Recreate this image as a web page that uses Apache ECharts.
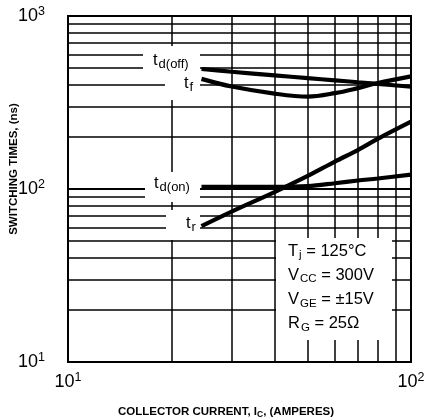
<!DOCTYPE html>
<html>
<head>
<meta charset="utf-8">
<script src="https://cdn.jsdelivr.net/npm/echarts@6/dist/echarts.min.js"></script>
<style>html,body{margin:0;padding:0;background:#fff}#c{width:428px;height:420px}</style>
</head>
<body>
<div id="c"></div>
<script>
// ---- data ----
const currents = [24.5, 30, 40, 50, 60, 70, 80, 100];        // I_C (A)
const tdOff    = [494, 476, 454, 437, 425, 414, 405, 390];    // ns
const tFall    = [433, 391, 356, 342, 358, 383, 410, 448];    // ns
const tdOn     = [103, 103, 103, 104, 108, 112, 115, 121];    // ns
const tRise    = [61, 74, 96, 119, 144, 168, 195, 245];       // ns
const xGridValues = [20, 30, 40, 50, 60, 70, 80, 90];
const yGridValues = [20, 30, 40, 50, 60, 70, 80, 90, 100, 200, 300, 400, 500, 600, 700, 800, 900];
const conditions = ['T|j| = 125°C', 'V|CC| = 300V', 'V|GE| = ±15V', 'R|G| = 25Ω'];

const FONT = '"Liberation Sans", Arial, Helvetica, sans-serif';
const pairs = ys => currents.map((x, i) => [x, ys[i]]);

const chart = echarts.init(document.getElementById('c'), null, {renderer: 'canvas'});

const gridLines = [];
xGridValues.forEach(v => gridLines.push({xAxis: v}));
yGridValues.forEach(v => gridLines.push({yAxis: v, lineStyle: {width: v === 100 ? 2.2 : 1.5}}));

function curve(name, ys) {
  return {
    name, type: 'line', data: pairs(ys), smooth: 0.35, showSymbol: false, symbol: 'none',
    z: 5, silent: true,
    lineStyle: {color: '#000', width: 4.2, cap: 'butt'}
  };
}

const tickRich = {
  b: {fontSize: 18, fontFamily: FONT, color: '#000'},
  p: {fontSize: 12.5, fontFamily: FONT, color: '#000', padding: [0, 0, 9, 0]}
};
const tickFmt = v => '{b|10}{p|' + Math.round(Math.log10(v)) + '}';

const labRich = {
  m: {fontSize: 16.5, fontFamily: FONT, color: '#000'},
  s: {fontSize: 13, fontFamily: FONT, color: '#000', padding: [8, 0, 0, 1]}
};
const condRich = {
  m: {fontSize: 16.5, fontFamily: FONT, color: '#000'},
  s: {fontSize: 11.5, fontFamily: FONT, color: '#000', padding: [8, 0, 0, 1]}
};

function whiteRect(x, y, w, h) {
  return {type: 'rect', z: 3, silent: true, shape: {x, y, width: w, height: h}, style: {fill: '#fff'}};
}
function label(x, y, text, rich) {
  return {type: 'text', z: 6, silent: true, x, y,
    style: {text, rich, textVerticalAlign: 'middle', fill: '#000', font: '16px ' + FONT}};
}

const graphic = [
  whiteRect(143, 46, 57, 28),
  whiteRect(165, 74, 35, 26),
  whiteRect(145, 172, 55, 30),
  whiteRect(166, 210, 34, 30),
  whiteRect(276, 238, 116, 102),
  label(153, 60, '{m|t}{s|d(off)}', labRich),
  label(184, 83, '{m|t}{s|f}', labRich),
  label(154, 183, '{m|t}{s|d(on)}', labRich),
  label(186, 223, '{m|t}{s|r}', labRich),
  {type: 'text', z: 6, silent: true, x: 14, y: 169, rotation: Math.PI / 2,
    style: {text: 'SWITCHING TIMES, (ns)', font: 'bold 11.5px ' + FONT, fill: '#000',
      textAlign: 'center', textVerticalAlign: 'middle'}},
  {type: 'text', z: 6, silent: true, x: 226, y: 412,
    style: {text: '{t|COLLECTOR CURRENT, I}{u|C}{t|, (AMPERES)}', textAlign: 'center', textVerticalAlign: 'middle',
      rich: {t: {fontSize: 11.5, fontWeight: 'bold', fontFamily: FONT, color: '#000'},
             u: {fontSize: 8.5, fontWeight: 'bold', fontFamily: FONT, color: '#000', padding: [6, 0, 0, 0]}}}}
];
conditions.forEach((c, i) => {
  const parts = c.split('|');
  graphic.push(label(288, 251 + i * 24.3, '{m|' + parts[0] + '}{s|' + parts[1] + '}{m|' + parts[2] + '}', condRich));
});

chart.setOption({
  animation: false,
  backgroundColor: '#fff',
  grid: {left: 68, right: 17, top: 16, bottom: 58, show: true, borderColor: '#000', borderWidth: 2, backgroundColor: 'transparent'},
  xAxis: {
    type: 'log', logBase: 10, min: 10, max: 100,
    axisLine: {show: true, lineStyle: {color: '#000', width: 2}},
    axisTick: {show: false}, splitLine: {show: false}, minorTick: {show: false},
    axisLabel: {formatter: tickFmt, rich: tickRich, margin: 9, color: '#000'}
  },
  yAxis: {
    type: 'log', logBase: 10, min: 10, max: 1000,
    axisLine: {show: true, lineStyle: {color: '#000', width: 2}},
    axisTick: {show: false}, splitLine: {show: false},
    axisLabel: {formatter: tickFmt, rich: tickRich, margin: 23, color: '#000'}
  },
  series: [
    {type: 'line', data: [], z: 1, silent: true,
      markLine: {z: 1, silent: true, symbol: 'none', animation: false, label: {show: false},
        lineStyle: {color: '#000', width: 1.5, type: 'solid'}, data: gridLines}},
    curve('td(off)', tdOff),
    curve('tf', tFall),
    curve('td(on)', tdOn),
    curve('tr', tRise)
  ],
  graphic
});
</script>
</body>
</html>
